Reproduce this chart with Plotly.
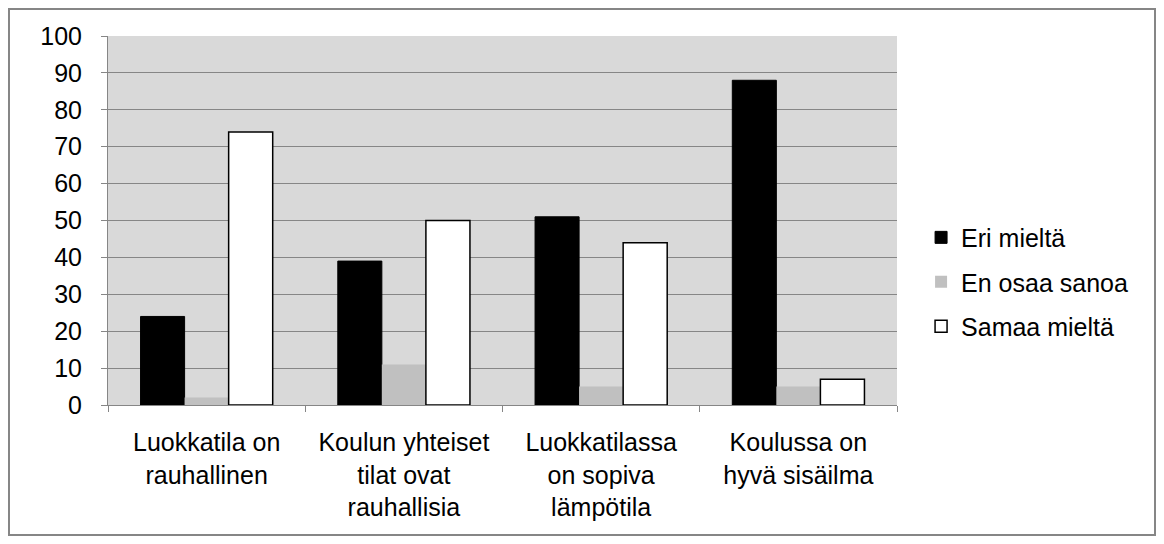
import plotly.graph_objects as go

categories = [
    "Luokkatila on<br>rauhallinen",
    "Koulun yhteiset<br>tilat ovat<br>rauhallisia",
    "Luokkatilassa<br>on sopiva<br>lämpötila",
    "Koulussa on<br>hyvä sisäilma",
]
eri_mielta = [24, 39, 51, 88]
en_osaa_sanoa = [2, 11, 5, 5]
samaa_mielta = [74, 50, 44, 7]
y_ticks = list(range(0, 101, 10))

FONT = "Liberation Sans, Arial, sans-serif"

fig = go.Figure()
fig.add_trace(go.Bar(
    x=categories, y=eri_mielta, name="Eri mieltä",
    marker=dict(color="#000000", line=dict(color="#000000", width=1)),
    legendgroup="a",
))
fig.add_trace(go.Bar(
    x=categories, y=en_osaa_sanoa, name="En osaa sanoa",
    marker=dict(color="#c0c0c0", line=dict(width=0)),
    legendgroup="b",
))
fig.add_trace(go.Bar(
    x=categories, y=samaa_mielta, name="Samaa mieltä",
    marker=dict(color="#ffffff", line=dict(color="#000000", width=1.5)),
    legendgroup="c",
))

# page has an 8px body margin, so everything is shifted up/left by 8px
fig.update_layout(
    width=1164, height=544,
    barmode="group", bargap=0.33, bargroupgap=0,
    plot_bgcolor="#d9d9d9", paper_bgcolor="#ffffff",
    margin=dict(l=100, r=275, t=28, b=147),
    font=dict(family=FONT, size=25, color="#000000"),
    legend=dict(
        x=1.0305, y=0.333, xanchor="left", yanchor="middle",
        font=dict(size=25), tracegroupgap=9, itemwidth=30,
    ),
    xaxis=dict(
        showline=True, linecolor="#868686", linewidth=1,
        ticks="outside", tickson="boundaries", ticklen=6, tickcolor="#868686",
        showgrid=False, tickfont=dict(size=25), ticklabelstandoff=15,
    ),
    yaxis=dict(
        range=[0, 100], tickvals=y_ticks,
        showline=True, linecolor="#868686", linewidth=1,
        ticks="outside", ticklen=6, tickcolor="#868686",
        showgrid=True, gridcolor="#868686", gridwidth=1,
        zeroline=False, tickfont=dict(size=25), ticklabelstandoff=14,
    ),
    shapes=[dict(
        type="rect", xref="paper", yref="paper",
        x0=-0.1255, x1=1.327, y0=-0.352, y1=1.073,
        line=dict(color="#868686", width=2), fillcolor="rgba(0,0,0,0)",
    )],
)

fig.write_html("out.html")
